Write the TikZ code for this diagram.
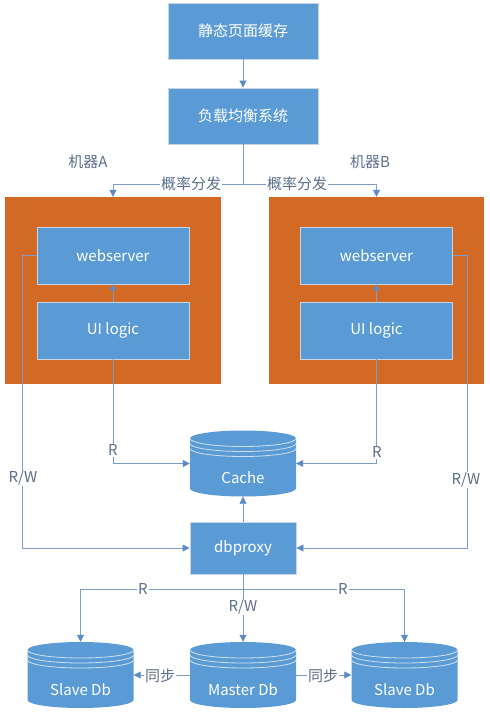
\documentclass[tikz,border=0pt]{standalone}
\usepackage{fontspec}
\setmainfont{Noto Sans CJK SC}
\usetikzlibrary{arrows.meta,positioning,calc}
\definecolor{cBox}{HTML}{5B9BD5}
\definecolor{cEdge}{HTML}{C8D5E2}
\definecolor{cMach}{HTML}{D26A26}
\definecolor{cLine}{HTML}{7E9DC6}
\definecolor{cTip}{HTML}{5B8CC8}
\definecolor{cInk}{HTML}{5B6F8C}
\tikzset{
  flow/.style={-{Triangle[length=7pt,width=7pt,color=cTip]},line width=0.8pt,draw=cLine},
  box/.style={draw=cEdge,fill=cBox,line width=0.9pt,minimum width=150pt,minimum height=56pt,
              text=white,font=\fontsize{15}{18}\selectfont},
  inbox/.style={box,minimum width=152pt,minimum height=57pt},
  machine/.style={fill=cMach,minimum width=216pt,minimum height=187pt},
  tag/.style={fill=white,inner sep=1pt,text=cInk,font=\fontsize{15}{18}\selectfont},
  db/.style={minimum width=106pt,minimum height=66pt,inner sep=0pt,text=white,
             text height=40pt,text depth=0pt,font=\fontsize{15}{18}\selectfont,
             path picture={
               \fill[cBox] ([yshift=-8pt]path picture bounding box.north west)
                 -- ([yshift=8pt]path picture bounding box.south west)
                 arc[start angle=180,end angle=360,x radius=53pt,y radius=8pt]
                 -- ([yshift=-8pt]path picture bounding box.north east)
                 arc[start angle=0,end angle=180,x radius=53pt,y radius=8pt] -- cycle;
               \foreach \d in {8,13,18}
                 \draw[white!70!cBox,line width=0.8pt]
                   ([yshift=-\d pt]path picture bounding box.north west)
                   arc[start angle=180,end angle=360,x radius=53pt,y radius=8pt];
             }}
}

\begin{document}
\begin{tikzpicture}[x=1pt,y=-1pt]
  \useasboundingbox (0,0) rectangle (490,718);

  % Top: static cache and load balancer.
  \node[box] (page) at (243,31) {静态页面缓存};
  \node[box] (lb) at (243,116) {负载均衡系统};
  \draw[flow] (page) -- (lb);

  % Machines A and B.
  \node[machine] (machA) at (113,290.5) {};
  \node[machine,minimum width=215pt] (machB) at (376.5,290.5) {};
  \node[inbox] (wsA) at (113,255.5) {webserver};
  \node[inbox] (uiA) at (113,330.5) {UI logic};
  \node[inbox] (wsB) at (376.5,255.5) {webserver};
  \node[inbox] (uiB) at (376.5,330.5) {UI logic};
  \node[tag,fill=none] (nameA) at (88,162) {机器A};
  \node[tag,fill=none] (nameB) at (370,162) {机器B};

  \draw[flow] (lb.south) -- ++(0,40) -| (machA.north);
  \draw[flow] (lb.south) -- ++(0,40) -| (machB.north);
  \draw[flow,-{Triangle[length=6pt,width=7pt,color=cTip]}] (uiA) -- (wsA);
  \draw[flow,-{Triangle[length=6pt,width=7pt,color=cTip]}] (uiB) -- (wsB);

  % Middle: cache and dbproxy.
  \node[db] (cache) at (243,463.5) {Cache};
  \node[box,minimum width=106pt,minimum height=52pt] (proxy) at (243,548) {dbproxy};

  \draw[flow] (uiA.south) |- (cache.west);
  \draw[flow] (uiB.south) |- (cache.east);
  \draw[flow] (wsA.west) -- ++(-14,0) |- (proxy.west);
  \draw[flow] (wsB.east) -- ++(14,0) |- (proxy.east);
  \draw[flow] (proxy) -- (cache);

  % Bottom: master and slaves.
  \node[db] (slaveA) at (80.5,675) {Slave Db};
  \node[db] (master) at (243,675) {Master Db};
  \node[db] (slaveB) at (404.5,675) {Slave Db};

  \draw[flow] (proxy.south) -- (master.north);
  \draw[flow] (proxy.south) -- ++(0,15) -| (slaveA.north);
  \draw[flow] (proxy.south) -- ++(0,15) -| (slaveB.north);
  \draw[flow] (master.west) -- (slaveA.east);
  \draw[flow] (master.east) -- (slaveB.west);

  % Labels on the lines.
  \node[tag] (splitA) at (191,184) {概率分发};
  \node[tag] (splitB) at (297,184) {概率分发};
  \node[tag] (readA) at (113,450) {R};
  \node[tag] (readB) at (377,452) {R};
  \node[tag] (rwA) at (23,478) {R/W};
  \node[tag] (rwB) at (466,480) {R/W};
  \node[tag] (readL) at (143,589) {R};
  \node[tag] (readR) at (343,589) {R};
  \node[tag] (rwM) at (243,607) {R/W};
  \node[tag] (syncL) at (160,676) {同步};
  \node[tag] (syncR) at (323,676) {同步};
\end{tikzpicture}
\end{document}
